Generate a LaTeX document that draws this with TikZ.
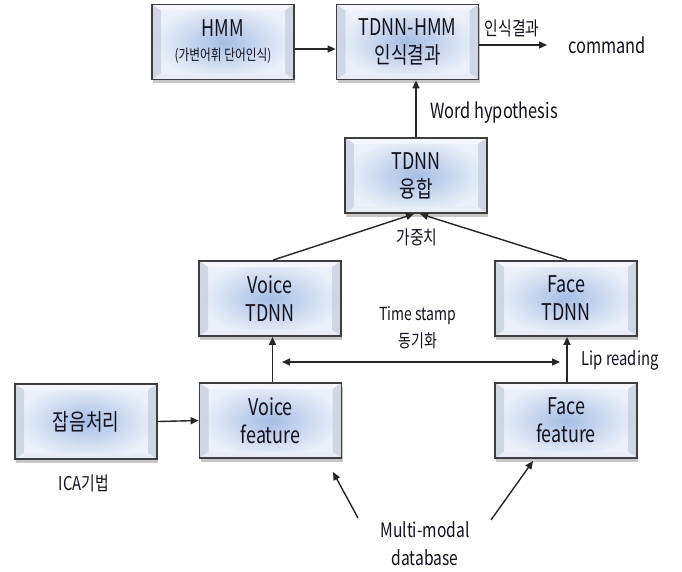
\documentclass[tikz,border=0pt]{standalone}
\usepackage{fontspec}
\setmainfont{Noto Sans CJK KR}[FakeStretch=0.78]
\usetikzlibrary{arrows.meta,calc,shadows}
\definecolor{boxin}{RGB}{166,190,228}
\definecolor{boxout}{RGB}{236,241,249}
\definecolor{bevtop}{RGB}{246,248,252}
\definecolor{bevside}{RGB}{196,205,220}
\definecolor{bevbot}{RGB}{232,237,245}
\definecolor{boxline}{RGB}{62,62,66}
\definecolor{txt}{RGB}{18,18,30}
\tikzset{
  box/.style={draw=boxline, line width=1.8pt, minimum width=142pt, minimum height=75pt,
    inner sep=0pt, align=center, text=txt, font=\fontsize{23}{28}\selectfont,
    inner color=boxin, outer color=boxout,
    drop shadow={shadow xshift=1pt, shadow yshift=-4pt, opacity=0.22, fill=black},
    path picture={
      \path (path picture bounding box.north west) coordinate (pnw)
            (path picture bounding box.south east) coordinate (pse);
      \path (pse |- pnw) coordinate (pne) (pnw |- pse) coordinate (psw);
      \path ($(pnw)+(9pt,-6pt)$) coordinate (inw) ($(pne)+(-9pt,-6pt)$) coordinate (ine)
            ($(pse)+(-9pt,6pt)$) coordinate (ise) ($(psw)+(9pt,6pt)$) coordinate (isw);
      \fill[bevtop, opacity=0.8] (pnw) -- (pne) -- (ine) -- (inw) -- cycle;
      \fill[bevside, opacity=0.7] (pnw) -- (inw) -- (isw) -- (psw) -- cycle;
      \fill[bevside, opacity=0.7] (pne) -- (ine) -- (ise) -- (pse) -- cycle;
      \fill[bevbot, opacity=0.8] (psw) -- (isw) -- (ise) -- (pse) -- cycle;
    }},
  lbl/.style={inner sep=1pt, text=txt, font=\fontsize{19}{27}\selectfont},
  arr/.style={-{Triangle[length=8pt,width=7pt]}, line width=1.4pt, draw=black!85},
  darr/.style={{Triangle[length=8pt,width=7pt]}-{Triangle[length=8pt,width=7pt]}, line width=1.4pt, draw=black!85}
}
\begin{document}
\begin{tikzpicture}[x=1pt,y=-1pt]
\useasboundingbox[fill=white] (0,0) rectangle (682,572);
% boxes
\node[box] (hmm) at (223,42) {HMM\\[-4pt]{\fontsize{15}{18}\selectfont (가변어휘 단어인식)}};
\node[box] (tdnnhmm) at (407.5,42) {TDNN-HMM\\인식결과};
\node[box] (tdnn) at (416,175.5) {TDNN\\융합};
\node[box] (vtdnn) at (270,298.5) {Voice\\TDNN};
\node[box] (ftdnn) at (566,298.5) {Face\\TDNN};
\node[box] (noise) at (86,421.5) {잡음처리};
\node[box] (vfeat) at (270.5,420.5) {Voice\\feature};
\node[box] (ffeat) at (566,420.5) {Face\\feature};
% labels
\node[lbl, font=\fontsize{21}{27}\selectfont] (cmd) at (607,45) {command};
\node[lbl] (res) at (512,28) {인식결과};
\node[lbl, font=\fontsize{21}{27}\selectfont] (wh) at (494,113) {Word hypothesis};
\node[lbl] (wt) at (417,237) {가중치};
\node[lbl, align=center, font=\fontsize{18}{27}\selectfont] (ts) at (418,328) {Time stamp\\동기화};
\node[lbl] (lip) at (620,360) {Lip reading};
\node[lbl, font=\fontsize{19}{27}\selectfont] (ica) at (84,483) {ICA기법};
\node[lbl, align=center, font=\fontsize{20}{28}\selectfont] (mm) at (425,544) {Multi-modal\\database};
% free ends
\coordinate (cmdin) at (547,45);
\coordinate (tsa) at (282,362);
\coordinate (tsb) at (560,362);
\coordinate (mva) at (358,518);
\coordinate (mvb) at (333,472);
\coordinate (mfa) at (491,520);
\coordinate (mfb) at (533,461);
% connectors
\draw[arr] ([yshift=-7pt]hmm.east) -- ([yshift=-7pt]tdnnhmm.west);
\draw[arr] ([yshift=-3pt]tdnnhmm.east) -- (cmdin);
\draw[arr] (tdnn.north) -- (tdnn.north |- tdnnhmm.south);
\draw[arr] ([xshift=3pt]vtdnn.north) -- ([xshift=-2pt]tdnn.south);
\draw[arr] ([xshift=1pt]ftdnn.north) -- ([xshift=4pt]tdnn.south);
\draw[arr] ([xshift=2pt]vfeat.north) -- ([xshift=2pt]vfeat.north |- vtdnn.south);
\draw[arr] ([xshift=1pt]ffeat.north) -- ([xshift=1pt]ffeat.north |- ftdnn.south);
\draw[darr] (tsa) -- (tsb);
\draw[arr] (noise.east) -- (vfeat.west);
\draw[arr] (mva) -- (mvb);
\draw[arr] (mfa) -- (mfb);
\end{tikzpicture}
\end{document}
